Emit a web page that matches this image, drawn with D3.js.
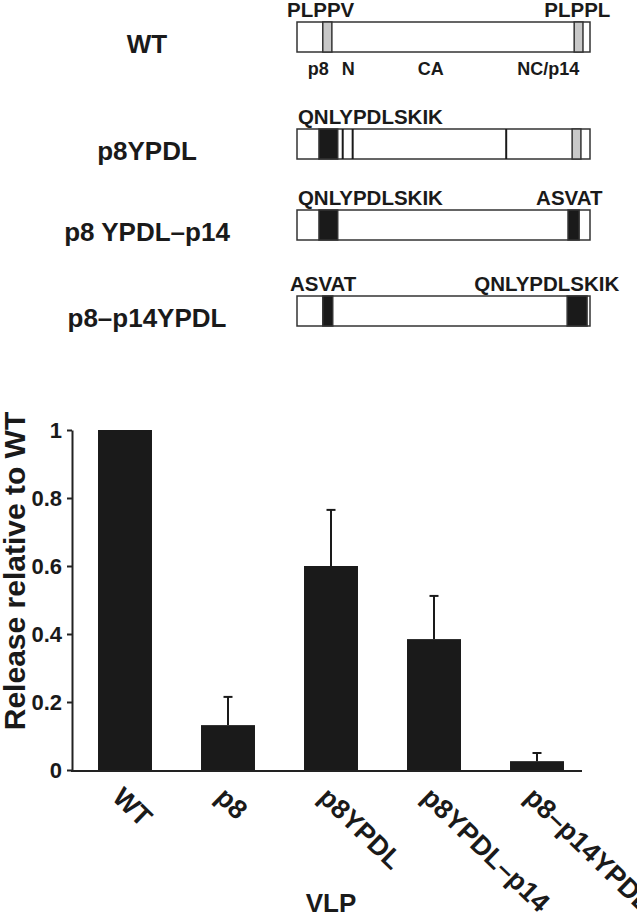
<!DOCTYPE html>
<html>
<head>
<meta charset="utf-8">
<script src="https://cdn.jsdelivr.net/npm/d3@7"></script>
<style>
  body { margin: 0; background: #fff; }
  svg { display: block; font-family: "Liberation Sans", Arial, sans-serif; font-weight: bold; }
</style>
</head>
<body>
<svg id="chart" width="637" height="919"></svg>
<script>
// --- bar chart data ---
const vlps = ['WT', 'p8', 'p8YPDL', 'p8YPDL\u2013p14', 'p8\u2013p14YPDL'];
const release = [1.0, 0.132, 0.60, 0.385, 0.026];
const releaseErr = [0, 0.083, 0.165, 0.127, 0.024];
const yTicks = [0, 0.2, 0.4, 0.6, 0.8, 1];

// --- construct schematic data (positions in % of Gag length) ---
const constructs = ['WT', 'p8YPDL', 'p8 YPDL\u2013p14', 'p8\u2013p14YPDL'];
const blockRow = [0, 0, 1, 1, 2, 2, 3, 3];
const blockFrom = [8.8, 94.6, 7.5, 93.9, 7.5, 92.5, 8.8, 92.2];
const blockTo = [11.9, 97.6, 13.9, 96.9, 13.9, 96.3, 12.2, 99.0];
const blockKind = ['late', 'late', 'ypdl', 'late', 'ypdl', 'ypdl', 'ypdl', 'ypdl'];
const dividerRow = [1, 1, 1];
const dividerAt = [15.6, 19.0, 71.4];
const motifRow = [0, 0, 1, 2, 2, 3, 3];
const motifText = ['PLPPV', 'PLPPL', 'QNLYPDLSKIK', 'QNLYPDLSKIK', 'ASVAT', 'ASVAT', 'QNLYPDLSKIK'];
const motifAt = [-3.4, 84.4, 0.3, 0.3, 81.6, -2.4, 60.5];
const regionText = ['p8', 'N', 'CA', 'NC/p14'];
const regionAt = [3.7, 15.3, 41.2, 75.2];

const ink = '#1a1a1a';
const svg = d3.select('#chart');

// ---------- schematic ----------
const posX = d3.scaleLinear().domain([0, 100]).range([297, 590]);
const rowTop = d3.scaleOrdinal().domain(d3.range(constructs.length)).range([22, 129, 210, 296]);
const boxH = 30;
const kindFill = { late: '#c8c8c8', ypdl: ink };

const schem = svg.append('g');

schem.selectAll('.row-name')
  .data(constructs)
  .join('text')
  .attr('x', 147)
  .attr('y', (d, i) => rowTop(i) + 31)
  .attr('text-anchor', 'middle')
  .style('font-size', '26px')
  .style('fill', ink)
  .text(d => d);

schem.selectAll('.box')
  .data(constructs)
  .join('rect')
  .attr('x', posX(0))
  .attr('y', (d, i) => rowTop(i))
  .attr('width', posX(100) - posX(0))
  .attr('height', boxH)
  .attr('fill', '#fff')
  .attr('stroke', '#333')
  .attr('stroke-width', 1.5);

schem.selectAll('.block')
  .data(blockRow)
  .join('rect')
  .attr('x', (d, i) => posX(blockFrom[i]))
  .attr('y', d => rowTop(d))
  .attr('width', (d, i) => posX(blockTo[i]) - posX(blockFrom[i]))
  .attr('height', boxH)
  .attr('fill', (d, i) => kindFill[blockKind[i]])
  .attr('stroke', '#333')
  .attr('stroke-width', 1.5);

schem.selectAll('.divider')
  .data(dividerRow)
  .join('line')
  .attr('x1', (d, i) => posX(dividerAt[i]))
  .attr('x2', (d, i) => posX(dividerAt[i]))
  .attr('y1', d => rowTop(d))
  .attr('y2', d => rowTop(d) + boxH)
  .attr('stroke', ink)
  .attr('stroke-width', 2);

schem.selectAll('.motif')
  .data(motifRow)
  .join('text')
  .attr('x', (d, i) => posX(motifAt[i]))
  .attr('y', d => rowTop(d) - 5.5)
  .style('font-size', '20.5px')
  .style('fill', ink)
  .text((d, i) => motifText[i]);

schem.selectAll('.region')
  .data(regionText)
  .join('text')
  .attr('x', (d, i) => posX(regionAt[i]))
  .attr('y', rowTop(0) + boxH + 23)
  .style('font-size', '18px')
  .style('fill', ink)
  .text(d => d);

// ---------- bar chart ----------
const y = d3.scaleLinear().domain([0, 1]).range([770, 430]);
const x = d3.scaleBand().domain(vlps).range([73.5, 588.5])
  .paddingInner(0.476).paddingOuter(0.238);

const chart = svg.append('g');

chart.selectAll('.bar')
  .data(vlps)
  .join('rect')
  .attr('x', d => x(d))
  .attr('y', (d, i) => y(release[i]))
  .attr('width', x.bandwidth())
  .attr('height', (d, i) => y(0) - y(release[i]))
  .attr('fill', ink);

const errs = vlps.filter((d, i) => releaseErr[i] > 0);
const errTop = d => y(release[vlps.indexOf(d)] + releaseErr[vlps.indexOf(d)]);
const mid = d => x(d) + x.bandwidth() / 2;
const errG = chart.selectAll('.err')
  .data(errs)
  .join('g')
  .attr('stroke', ink)
  .attr('stroke-width', 2);
errG.append('line')
  .attr('x1', mid)
  .attr('x2', mid)
  .attr('y1', d => y(release[vlps.indexOf(d)]))
  .attr('y2', errTop);
errG.append('line')
  .attr('x1', d => mid(d) - 4.5)
  .attr('x2', d => mid(d) + 4.5)
  .attr('y1', errTop)
  .attr('y2', errTop);

// y axis
const yAxis = chart.append('g')
  .attr('transform', 'translate(72,0)')
  .call(d3.axisLeft(y).tickValues(yTicks).tickSize(5).tickSizeOuter(0).tickPadding(5).tickFormat(d => d));
yAxis.select('.domain').attr('stroke', '#222').attr('stroke-width', 2);
yAxis.selectAll('.tick line').attr('stroke', '#222').attr('stroke-width', 2);
yAxis.selectAll('.tick text')
  .style('font-family', '"Liberation Sans", Arial, sans-serif')
  .style('font-weight', 'bold')
  .style('font-size', '22px')
  .attr('fill', ink);

// x axis baseline
chart.append('line')
  .attr('x1', 71).attr('x2', 582)
  .attr('y1', y(0) + 1).attr('y2', y(0) + 1)
  .attr('stroke', '#222').attr('stroke-width', 2);

chart.selectAll('.xlabel')
  .data(vlps)
  .join('text')
  .attr('transform', d => `translate(${mid(d) - 14},799) rotate(44)`)
  .style('font-size', '27px')
  .style('fill', ink)
  .text(d => d);

chart.append('text')
  .attr('x', 331).attr('y', 912)
  .attr('text-anchor', 'middle')
  .style('font-size', '26px')
  .style('fill', ink)
  .text('VLP');

chart.append('text')
  .attr('transform', 'translate(25,571) rotate(-90)')
  .attr('text-anchor', 'middle')
  .style('font-size', '30px')
  .style('fill', ink)
  .text('Release relative to WT');
</script>
</body>
</html>
